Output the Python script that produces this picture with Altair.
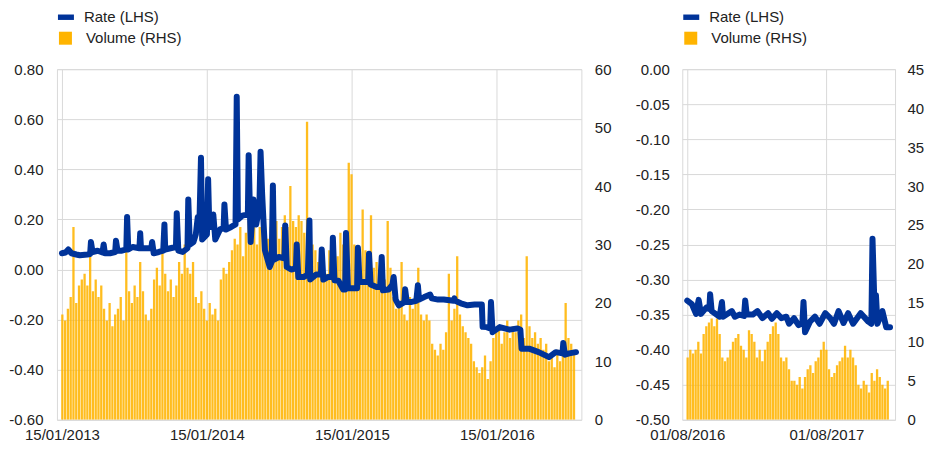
import altair as alt
import pandas as pd

BLUE = "#003399"
YELLOW = "#FFB400"
GRID = "#d9d9d9"
FONT = "Liberation Sans"

# ---------------- Left panel: rate (LHS) ----------------
rate_left_dates = [
    "2013-01-15", "2013-01-24", "2013-01-31", "2013-02-08", "2013-02-20", "2013-03-01",
    "2013-03-20", "2013-03-27", "2013-03-29", "2013-04-02", "2013-04-15", "2013-04-27",
    "2013-04-30", "2013-05-03", "2013-05-16", "2013-05-29", "2013-05-31", "2013-06-04",
    "2013-06-15", "2013-06-26", "2013-06-28", "2013-07-01", "2013-07-12", "2013-07-29",
    "2013-07-31", "2013-08-02", "2013-08-14", "2013-08-28", "2013-08-30", "2013-09-03",
    "2013-09-16", "2013-09-27", "2013-09-30", "2013-10-02", "2013-10-15", "2013-10-29",
    "2013-10-31", "2013-11-04", "2013-11-15", "2013-11-27", "2013-11-29", "2013-12-03",
    "2013-12-12", "2013-12-18", "2013-12-23", "2013-12-27", "2013-12-31", "2014-01-03",
    "2014-01-15", "2014-01-18", "2014-01-21", "2014-01-27", "2014-01-31", "2014-02-05",
    "2014-02-17", "2014-02-26", "2014-02-28", "2014-03-04", "2014-03-17", "2014-03-28",
    "2014-03-31", "2014-04-03", "2014-04-14", "2014-04-28", "2014-04-30", "2014-05-05",
    "2014-05-12", "2014-05-19", "2014-05-27", "2014-05-30", "2014-06-03", "2014-06-10",
    "2014-06-22", "2014-06-27", "2014-06-30", "2014-07-03", "2014-07-15", "2014-07-29",
    "2014-07-31", "2014-08-04", "2014-08-15", "2014-08-27", "2014-08-29", "2014-09-02",
    "2014-09-15", "2014-09-26", "2014-09-30", "2014-10-02", "2014-10-17", "2014-10-29",
    "2014-10-31", "2014-11-04", "2014-11-15", "2014-11-26", "2014-11-28", "2014-12-02",
    "2014-12-12", "2014-12-24", "2014-12-29", "2014-12-31", "2015-01-05", "2015-01-16",
    "2015-01-28", "2015-01-30", "2015-02-03", "2015-02-13", "2015-02-25", "2015-02-27",
    "2015-03-03", "2015-03-18", "2015-03-27", "2015-03-31", "2015-04-03", "2015-04-17",
    "2015-04-27", "2015-04-30", "2015-05-05", "2015-05-13", "2015-05-27", "2015-05-29",
    "2015-06-02", "2015-06-12", "2015-06-26", "2015-06-30", "2015-07-03", "2015-07-16",
    "2015-07-31", "2015-08-04", "2015-08-20", "2015-09-03", "2015-09-28", "2015-09-30",
    "2015-10-02", "2015-10-16", "2015-11-02", "2015-11-20", "2015-12-08", "2015-12-10",
    "2015-12-20", "2015-12-29", "2015-12-31", "2016-01-04", "2016-01-22", "2016-02-16",
    "2016-03-07", "2016-03-14", "2016-03-17", "2016-04-05", "2016-04-29", "2016-05-25",
    "2016-06-11", "2016-06-28", "2016-06-30", "2016-07-04", "2016-07-15", "2016-08-01",
]
rate_left_values = [
    0.065, 0.068, 0.080, 0.065, 0.060, 0.057,
    0.060, 0.062, 0.110, 0.070, 0.075, 0.068,
    0.100, 0.065, 0.065, 0.070, 0.115, 0.075,
    0.075, 0.080, 0.210, 0.080, 0.090, 0.085,
    0.145, 0.085, 0.085, 0.085, 0.110, 0.065,
    0.070, 0.075, 0.180, 0.080, 0.085, 0.090,
    0.225, 0.075, 0.070, 0.085, 0.280, 0.100,
    0.110, 0.140, 0.210, 0.180, 0.446, 0.120,
    0.140, 0.360, 0.170, 0.170, 0.220, 0.120,
    0.160, 0.165, 0.260, 0.160, 0.170, 0.180,
    0.690, 0.200, 0.215, 0.220, 0.456, 0.110,
    0.280, 0.180, 0.250, 0.470, 0.300, 0.077,
    0.010, 0.030, 0.336, 0.040, 0.050, 0.045,
    0.176, 0.010, 0.000, 0.005, 0.100, -0.030,
    -0.030, -0.020, 0.196, -0.040, -0.020, -0.020,
    0.080, -0.040, -0.030, -0.030, 0.127, -0.043,
    -0.045, -0.080, -0.080, 0.146, -0.075, -0.075,
    -0.075, 0.087, -0.050, -0.050, -0.050, 0.063,
    -0.060, -0.070, -0.070, 0.050, -0.083, -0.080,
    -0.060, -0.030, -0.120, -0.143, -0.130, -0.079,
    -0.130, -0.130, -0.125, -0.063, -0.120, -0.110,
    -0.100, -0.115, -0.120, -0.120, -0.125, -0.115,
    -0.125, -0.135, -0.143, -0.140, -0.140, -0.229,
    -0.230, -0.235, -0.130, -0.250, -0.230, -0.240,
    -0.235, -0.240, -0.316, -0.316, -0.330, -0.350,
    -0.330, -0.335, -0.293, -0.340, -0.335, -0.330,
]

# ---------------- Left panel: weekly volume (RHS) ----------------
vol_left_start = "2013-01-16"
vol_left = [
    18, 17, 19, 21, 33, 20, 23, 24, 25, 23,
    28, 22, 24, 21, 23, 19, 17, 20, 16, 18,
    19, 21, 17, 29, 22, 20, 23, 21, 27, 22,
    18, 17, 19, 24, 26, 23, 29, 25, 22, 24,
    21, 23, 27, 25, 30, 26, 25, 27, 21, 20,
    22, 19, 17, 20, 18, 19, 17, 24, 26, 25,
    27, 29, 31, 30, 33, 28, 32, 34, 31, 33,
    30, 33, 34, 32, 31, 33, 32, 34, 31, 33,
    35, 33, 40, 34, 33, 35, 34, 32, 51, 31,
    30, 29, 27, 26, 28, 25, 29, 31, 30, 28,
    32, 30, 31, 44, 42, 30, 28, 27, 36, 29,
    28, 35, 26, 27, 25, 28, 24, 34, 26, 21,
    19, 20, 27, 18, 17, 21, 19, 20, 26, 18,
    17, 18, 17, 13, 12, 11, 13, 12, 15, 25,
    17, 19, 28, 18, 16, 15, 14, 13, 10, 9,
    8, 9, 11, 7, 10, 14, 15, 16, 13, 15,
    17, 14, 16, 15, 17, 18, 14, 28, 16, 14,
    15, 13, 14, 12, 13, 10, 11, 9, 12, 10,
    13, 20, 14, 13, 12,
]

# ---------------- Right panel: rate (LHS) ----------------
rate_right_dates = [
    "2016-08-01", "2016-08-13", "2016-08-24", "2016-08-31", "2016-09-06", "2016-09-20",
    "2016-09-28", "2016-09-30", "2016-10-04", "2016-10-25", "2016-10-31", "2016-11-03",
    "2016-11-26", "2016-12-04", "2016-12-16", "2016-12-28", "2016-12-31", "2017-01-04",
    "2017-01-20", "2017-02-01", "2017-02-14", "2017-03-01", "2017-03-11", "2017-03-24",
    "2017-04-05", "2017-04-18", "2017-04-25", "2017-05-08", "2017-05-20", "2017-05-30",
    "2017-06-02", "2017-06-06", "2017-06-19", "2017-07-02", "2017-07-14", "2017-07-29",
    "2017-08-11", "2017-08-21", "2017-09-02", "2017-09-15", "2017-09-27", "2017-10-10",
    "2017-10-30", "2017-11-19", "2017-11-27", "2017-11-30", "2017-12-05", "2017-12-09",
    "2017-12-13", "2017-12-26", "2018-01-05", "2018-01-15",
]
rate_right_values = [
    -0.330, -0.335, -0.349, -0.329, -0.349, -0.340,
    -0.342, -0.321, -0.345, -0.353, -0.332, -0.353,
    -0.345, -0.353, -0.350, -0.352, -0.330, -0.350,
    -0.350, -0.345, -0.355, -0.348, -0.356, -0.348,
    -0.355, -0.353, -0.363, -0.355, -0.365, -0.362,
    -0.332, -0.375, -0.360, -0.353, -0.363, -0.348,
    -0.355, -0.363, -0.345, -0.362, -0.348, -0.363,
    -0.348, -0.360, -0.363, -0.242, -0.335, -0.322,
    -0.363, -0.345, -0.368, -0.368,
]

# ---------------- Right panel: weekly volume (RHS) ----------------
vol_right_start = "2016-08-02"
vol_right = [
    8, 9, 8.5, 9, 10, 8.5, 11, 12, 12.5, 13,
    12, 13, 11, 8, 7.5, 8, 9, 10, 10.5, 11,
    9.5, 9, 8, 11.5, 11, 10, 8, 9, 7.5, 9,
    10, 11, 12, 12.5, 11, 8, 7.5, 8, 6.5, 5,
    5, 4.5, 5.5, 4, 5.5, 6.5, 7, 6, 7.5, 8,
    9, 10, 9, 6.5, 5.5, 6, 7, 7.5, 8, 9.5,
    8, 9, 8, 7, 4.5, 4, 5, 4.5, 3.5, 6,
    5, 6.5, 5.5, 4.5, 4, 5,
]

rate_ticks_left = [-0.6, -0.4, -0.2, 0.0, 0.2, 0.4, 0.6, 0.8]
vol_ticks_left = [0, 10, 20, 30, 40, 50, 60]
rate_ticks_right = [-0.5, -0.45, -0.4, -0.35, -0.3, -0.25, -0.2, -0.15, -0.1, -0.05, 0.0]
vol_ticks_right = [0, 5, 10, 15, 20, 25, 30, 35, 40, 45]

RATE_LABEL = "Rate (LHS)"
VOL_LABEL = "Volume (RHS)"

# hyphen-minus labels with two decimals, as in the original
RATE_LABEL_EXPR = "(datum.value < -0.0001 ? '-' : '') + format(abs(datum.value), '.2f')"


def weekly_frame(start, values):
    dates = pd.date_range(start, periods=len(values), freq="7D").strftime("%Y-%m-%d")
    return pd.DataFrame({"date": list(dates), "volume": values, "series": VOL_LABEL})


def dt(s):
    y, m, d = (int(p) for p in s.split("-"))
    return alt.DateTime(year=y, month=m, date=d, utc=True)


def panel(line_df, bar_df, xdom, xvals, rate_dom, rate_vals, vol_dom, vol_vals, width,
          rate_pad, right_pad):
    x = alt.X(
        "date:T",
        scale=alt.Scale(type="utc", domain=[dt(xdom[0]), dt(xdom[1])], nice=False),
        axis=alt.Axis(
            values=[dt(v) for v in xvals], format="%d/%m/%Y", grid=True,
            gridColor=GRID, ticks=False, domain=False, labelPadding=8,
            labelFlush=False, title=None,
        ),
    )
    bars = alt.Chart(bar_df).mark_bar(width=2.3, opacity=0.88, clip=True).encode(
        x=x,
        y=alt.Y(
            "volume:Q",
            scale=alt.Scale(domain=vol_dom, nice=False, zero=True),
            axis=alt.Axis(orient="right", values=vol_vals, format="d", grid=False,
                          ticks=False, domain=False, labelPadding=right_pad, title=None),
        ),
        fill=alt.Fill(
            "series:N",
            scale=alt.Scale(domain=[VOL_LABEL], range=[YELLOW]),
            legend=alt.Legend(orient="none", legendX=1, legendY=-38.5, title=None,
                              symbolType="square", symbolSize=169, symbolStrokeWidth=0,
                              symbolOpacity=1, labelOffset=13, padding=0),
        ),
    )
    line = alt.Chart(line_df).mark_line(
        strokeWidth=6, strokeCap="round", strokeJoin="round", clip=True
    ).encode(
        x=x,
        y=alt.Y(
            "rate:Q",
            scale=alt.Scale(domain=rate_dom, nice=False, zero=False),
            axis=alt.Axis(orient="left", values=rate_vals, labelExpr=RATE_LABEL_EXPR,
                          grid=True, gridColor=GRID, ticks=False, domain=False,
                          labelPadding=rate_pad, title=None),
        ),
        stroke=alt.Stroke(
            "series:N",
            scale=alt.Scale(domain=[RATE_LABEL], range=[BLUE]),
            legend=alt.Legend(orient="none", legendX=1, legendY=-60, title=None,
                              symbolType="M-1,-0.34H1V0.34H-1Z", symbolSize=256,
                              symbolStrokeWidth=0, symbolFillColor=BLUE,
                              labelOffset=10, padding=0),
        ),
    )
    return alt.layer(bars, line).resolve_scale(y="independent").properties(
        width=width, height=351
    )


left_line = pd.DataFrame({"date": rate_left_dates, "rate": rate_left_values, "series": RATE_LABEL})
right_line = pd.DataFrame({"date": rate_right_dates, "rate": rate_right_values, "series": RATE_LABEL})
left_bar = weekly_frame(vol_left_start, vol_left)
right_bar = weekly_frame(vol_right_start, vol_right)

left = panel(left_line, left_bar, ("2013-01-15", "2016-08-02"),
             ["2013-01-15", "2014-01-15", "2015-01-15", "2016-01-15"],
             [-0.6, 0.8], rate_ticks_left, [0, 60], vol_ticks_left, 525, 14, 13)
right = panel(right_line, right_bar, ("2016-08-01", "2018-01-15"),
              ["2016-08-01", "2017-08-01"],
              [-0.5, 0.0], rate_ticks_right, [0, 45], vol_ticks_right, 213, 13, 12)

chart = (
    alt.hconcat(left, right, spacing=22)
    .resolve_scale(fill="independent", stroke="independent")
    .resolve_legend(fill="independent", stroke="independent")
    .configure_view(stroke=GRID, strokeWidth=1)
    .configure_axis(labelFont=FONT, labelFontSize=15, labelColor="#222222")
    .configure_legend(labelFont=FONT, labelFontSize=15, labelColor="#222222")
    .properties(background="white", padding={"left": 0, "top": 0, "right": 0, "bottom": 0})
)

chart.save("out.html", embed_options={"renderer": "svg", "actions": False})
